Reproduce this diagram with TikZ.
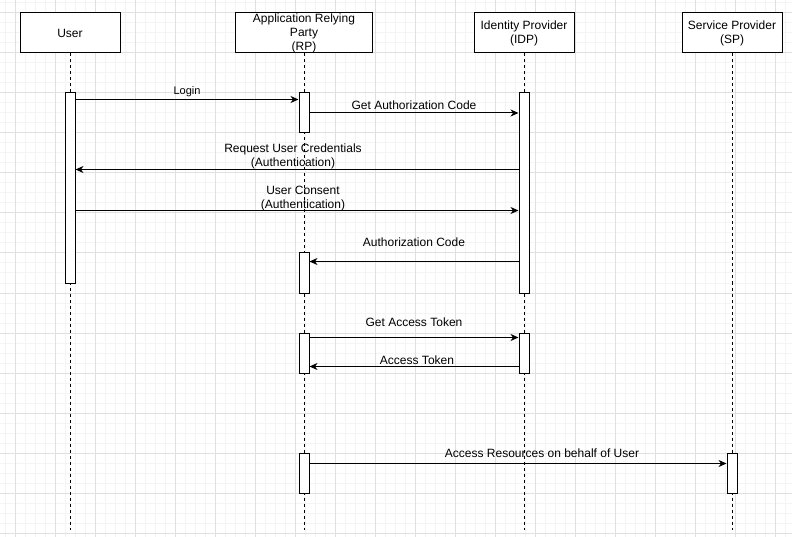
\documentclass[tikz,border=0pt]{standalone}
\usepackage{fontspec}
\setmainfont{Liberation Sans}
\usetikzlibrary{arrows.meta}
\definecolor{gridminor}{RGB}{244,244,244}
\definecolor{gridmajor}{RGB}{224,224,224}
\tikzset{
  head/.style={draw, line width=1pt, fill=white, minimum width=100pt, minimum height=40pt,
    inner sep=0pt, align=center, font=\fontsize{12}{14}\selectfont},
  bar/.style={draw, line width=1pt, fill=white, minimum width=10pt, inner sep=0pt},
  lifeline/.style={line width=1pt, dash pattern=on 3pt off 3pt},
  msg/.style={line width=1pt, -{Stealth[length=8pt,width=7pt,inset=2.5pt]}},
  lbl/.style={inner sep=0pt, text height=9pt, text depth=0pt, font=\fontsize{12}{14}\selectfont},
  lbltwo/.style={inner sep=0pt, anchor=south, align=center, font=\fontsize{12}{14}\selectfont},
}
\begin{document}
\begin{tikzpicture}[x=1pt, y=-1pt]
    \useasboundingbox (0,0) rectangle (792,537);

    % Draw grid
    \foreach \g in {5,15,...,785} \draw[gridminor, line width=1pt] (\g,0) -- (\g,537);
    \foreach \g in {3,13,...,533} \draw[gridminor, line width=1pt] (0,\g) -- (792,\g);
    \foreach \g in {15,55,...,775} \draw[gridmajor, line width=1pt] (\g,0) -- (\g,537);
    \foreach \g in {13,53,...,533} \draw[gridmajor, line width=1pt] (0,\g) -- (792,\g);

    % Draw lifeline heads
    \node[head] (user) at (70,33) {User};
    \node[head, minimum width=137.5pt] (rp) at (304,33) {Application Relying\\Party\\(RP)};
    \node[head] (idp) at (524,33) {Identity Provider\\(IDP)};
    \node[head] (sp) at (732,33) {Service Provider\\(SP)};

    % Draw lifelines
    \coordinate (bottom) at (0,530);
    \foreach \n in {user,rp,idp,sp} {
        \draw[lifeline] (\n.south) -- (\n.south |- bottom);
      }

    % Draw activation bars
    \node[bar, minimum height=190pt] (ua) at (70,188) {};
    \node[bar, minimum height=40pt] (rpa1) at (304,113) {};
    \node[bar, minimum height=200pt] (idpa1) at (524,193) {};
    \node[bar, minimum height=40pt] (rpa2) at (304,273) {};
    \node[bar, minimum height=40pt] (rpa3) at (304,353) {};
    \node[bar, minimum height=40pt] (idpa2) at (524,353) {};
    \node[bar, minimum height=40pt] (rpa4) at (304,473) {};
    \node[bar, minimum height=40pt] (spa) at (732,473) {};

    % Draw messages
    \draw[msg] ([yshift=-7pt]ua.north east) -- ([yshift=-7pt]rpa1.north west)
      node[lbl, midway, yshift=9pt, font=\fontsize{11}{13}\selectfont] {Login};

    \draw[msg] (rpa1.east) -- (rpa1.east -| idpa1.west)
      node[lbl, midway, yshift=8pt] {Get Authorization Code};

    \draw[msg] ([yshift=-77pt]idpa1.north west) -- ([yshift=-77pt]ua.north east)
      node[lbltwo, midway, xshift=-4pt] {Request User Credentials\\(Authentication)};

    \draw[msg] ([yshift=-118pt]ua.north east) -- ([yshift=-118pt]idpa1.north west)
      node[lbltwo, midway, xshift=6pt, yshift=-1pt] {User Consent\\(Authentication)};

    \draw[msg] ([yshift=-169pt]idpa1.north west) -- ([yshift=-9pt]rpa2.north east)
      node[lbl, midway, yshift=19pt] {Authorization Code};

    \draw[msg] ([yshift=-5pt]rpa3.north east) -- ([yshift=-5pt]idpa2.north west)
      node[lbl, midway, yshift=16pt] {Get Access Token};

    \draw[msg] ([yshift=7pt]idpa2.south west) -- ([yshift=7pt]rpa3.south east)
      node[lbl, midway, yshift=7pt, xshift=3pt] {Access Token};

    \draw[msg] ([yshift=-11pt]rpa4.north east) -- ([yshift=-11pt]spa.north west)
      node[lbl, midway, yshift=11pt, xshift=24pt] {Access Resources on behalf of User};
  \end{tikzpicture}
\end{document}
